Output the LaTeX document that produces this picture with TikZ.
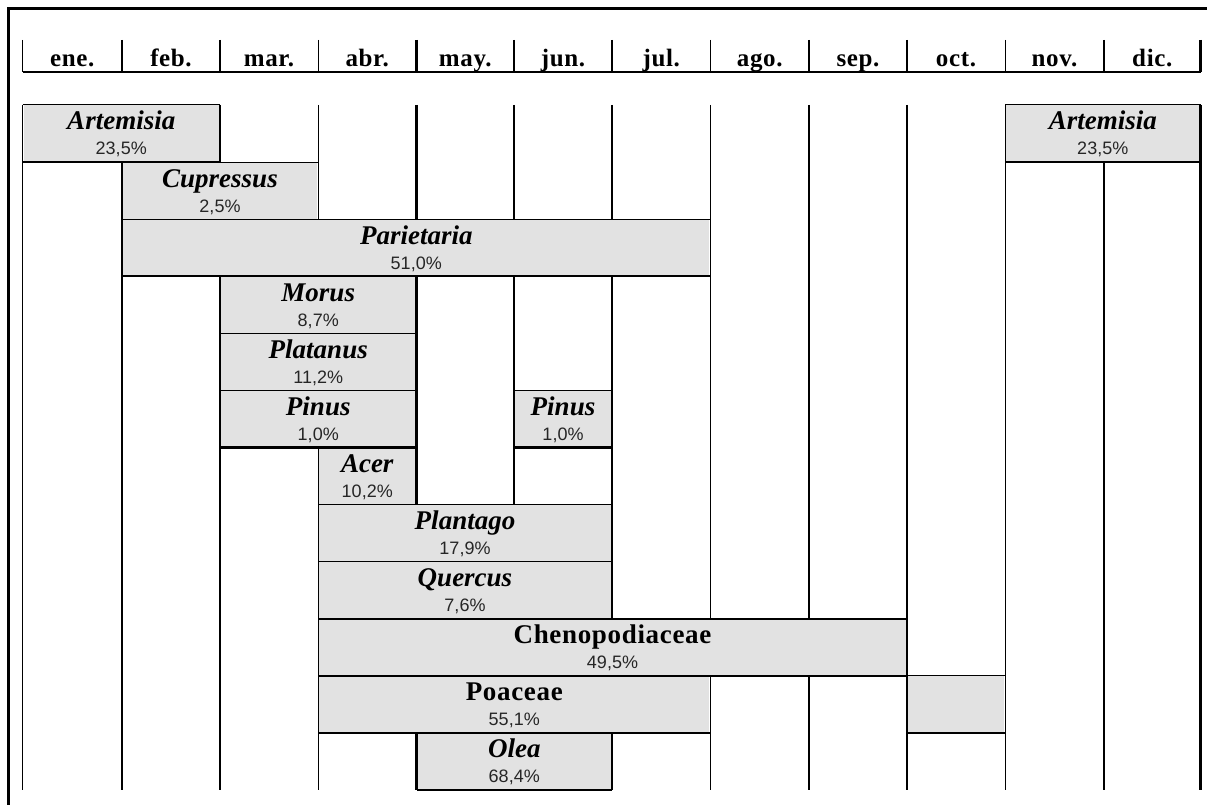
\documentclass[tikz,border=0pt]{standalone}
\usepackage{fontspec}
\setmainfont{Liberation Serif}
\newfontfamily\pctfamily{Liberation Sans}
\newfontfamily\spacedfamily[LetterSpace=2.5]{Liberation Serif}
\usetikzlibrary{calc}
\pgfdeclarelayer{gridlayer}
\pgfdeclarelayer{filllayer}
\pgfsetlayers{gridlayer,filllayer,main}
\definecolor{barfill}{HTML}{E2E2E2}
\tikzset{
 thinl/.style={line width=1pt},
 thickl/.style={line width=2.2pt},
 framel/.style={line width=2.6pt},
 month/.style={font=\fontsize{25}{25}\selectfont\spacedfamily\bfseries, anchor=base, inner sep=0pt},
 nm/.style={font=\fontsize{27}{27}\selectfont\bfseries, anchor=base, inner sep=0pt},
 pct/.style={font=\fontsize{18}{18}\selectfont\pctfamily, anchor=base, inner sep=0pt, text=black!85},
}
\newcommand\pbar[4]{%
 \begin{pgfonlayer}{filllayer}
 \fill[barfill] ($(cx#1 |- ry#3)+(1.3,0)$) rectangle ($(cx#2 |- ry#4)+(-1.3,0)$);
 \end{pgfonlayer}}
\newcommand\hl[4]{\draw[#1] (cx#2 |- ry#4) -- (cx#3 |- ry#4);}
\newcommand\plabel[6]{%
 \coordinate (m#1) at ($(cx#2)!0.5!(cx#3)$);
 \node[nm] (n#1) at ($(m#1 |- ry#4)+(0,25)$) {#5};
 \node[pct] (p#1) at ($(m#1 |- ry#4)+(0,50)$) {#6};}
\begin{document}
\begin{tikzpicture}[x=1pt,y=-1pt]
\useasboundingbox (0,0) rectangle (1207,805);
\foreach \i/\xx in {0/22.5,1/122,2/220,3/318,4/416.5,5/514,6/612,7/710.5,8/809,9/907,10/1005,11/1104,12/1200.5}
  \coordinate (cx\i) at (\xx,0);
\foreach \j in {0,...,12}
  \coordinate (ry\j) at (0,{105+57.083*\j});
% outer frame
\coordinate (f0) at (8.5,8.5);
\coordinate (f1) at (1207,8.5);
\coordinate (f2) at (8.5,805);
\draw[framel] (f1) -- (f0) -- (f2);
% header
\draw[thickl] ($(cx0)+(0,72)$) -- ($(cx12)+(0,72)$);
\foreach \i/\w in {0/thinl,1/thickl,2/thickl,3/thinl,4/thickl,5/thickl,6/thickl,7/thinl,8/thickl,9/thickl,10/thinl,11/thickl,12/thickl}{
  \draw[\w] ($(cx\i)+(0,40)$) -- ($(cx\i)+(0,72)$);
  \begin{pgfonlayer}{gridlayer}
  \draw[\w] (cx\i |- ry0) -- (cx\i |- ry12);
  \end{pgfonlayer}
}
\foreach \i/\m [evaluate=\i as \k using int(\i+1)] in {0/ene.,1/feb.,2/mar.,3/abr.,4/may.,5/jun.,6/jul.,7/ago.,8/sep.,9/oct.,10/nov.,11/dic.}
  \node[month] (mon\i) at ($(cx\i)!0.5!(cx\k)+(0,67)$) {\m};
% bars (fills)
\pbar{0}{2}{0}{1}
\pbar{10}{12}{0}{1}
\pbar{1}{3}{1}{2}
\pbar{1}{7}{2}{3}
\pbar{2}{4}{3}{4}
\pbar{2}{4}{4}{5}
\pbar{2}{4}{5}{6}
\pbar{5}{6}{5}{6}
\pbar{3}{4}{6}{7}
\pbar{3}{6}{7}{8}
\pbar{3}{6}{8}{9}
\pbar{3}{9}{9}{10}
\pbar{3}{7}{10}{11}
\pbar{9}{10}{10}{11}
\pbar{4}{6}{11}{12}
% bar top/bottom lines
\hl{thinl}{0}{2}{0}  \hl{thickl}{0}{2}{1}
\hl{thinl}{10}{12}{0} \hl{thickl}{10}{12}{1}
\hl{thinl}{2}{3}{1}  \hl{thinl}{1}{3}{2}
\hl{thinl}{3}{7}{2}  \hl{thickl}{1}{7}{3}
\hl{thinl}{2}{4}{4}
\hl{thinl}{2}{4}{5}
\hl{thickl}{2}{4}{6}
\hl{thinl}{5}{6}{5}  \hl{thickl}{5}{6}{6}
\hl{thinl}{3}{4}{6}  \hl{thinl}{3}{4}{7}
\hl{thinl}{3}{6}{7}  \hl{thinl}{3}{6}{8}
\hl{thickl}{3}{6}{9}
\hl{thickl}{3}{9}{9} \hl{thickl}{3}{9}{10}
\hl{thickl}{3}{7}{11}
\hl{thinl}{9}{10}{10} \hl{thickl}{9}{10}{11}
\hl{thickl}{4}{6}{12}
% labels
\plabel{artA}{0}{2}{0}{\itshape Artemisia}{23,5\%}
\plabel{artB}{10}{12}{0}{\itshape Artemisia}{23,5\%}
\plabel{cup}{1}{3}{1}{\itshape Cupressus}{2,5\%}
\plabel{par}{1}{7}{2}{\itshape Parietaria}{51,0\%}
\plabel{mor}{2}{4}{3}{\itshape Morus}{8,7\%}
\plabel{pla}{2}{4}{4}{\itshape Platanus}{11,2\%}
\plabel{pinA}{2}{4}{5}{\itshape Pinus}{1,0\%}
\plabel{pinB}{5}{6}{5}{\itshape Pinus}{1,0\%}
\plabel{ace}{3}{4}{6}{\itshape Acer}{10,2\%}
\plabel{plt}{3}{6}{7}{\itshape Plantago}{17,9\%}
\plabel{que}{3}{6}{8}{\itshape Quercus}{7,6\%}
\plabel{che}{3}{9}{9}{{\spacedfamily Chenopodiaceae}}{49,5\%}
\plabel{poa}{3}{7}{10}{{\spacedfamily Poaceae}}{55,1\%}
\plabel{ole}{4}{6}{11}{\itshape Olea}{68,4\%}
\end{tikzpicture}
\end{document}
